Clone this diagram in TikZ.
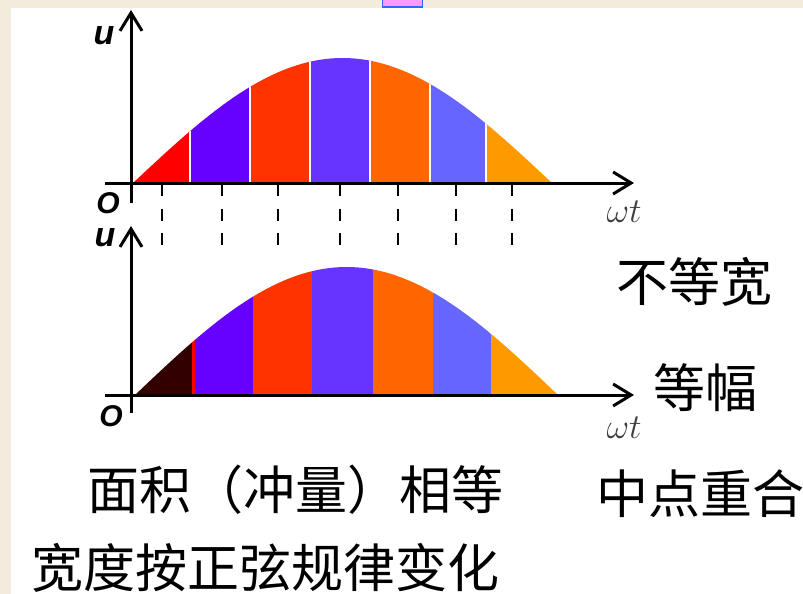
\documentclass[tikz,border=0pt]{standalone}
\usepackage{fix-cm}
\usepackage{fontspec}
\newfontfamily\cjk{Noto Sans CJK SC}
\newfontfamily\axfont{Liberation Sans}
\usepackage{tikz}
\usetikzlibrary{arrows.meta}
\usepackage{xcolor}
\definecolor{paper}{RGB}{243,236,220}
\definecolor{tabpink}{RGB}{255,153,255}
\definecolor{tabblue}{RGB}{51,102,255}
\definecolor{pwmA}{RGB}{255,0,0}
\definecolor{pwmB}{RGB}{102,0,255}
\definecolor{pwmC}{RGB}{255,51,0}
\definecolor{pwmD}{RGB}{102,51,255}
\definecolor{pwmE}{RGB}{255,102,0}
\definecolor{pwmF}{RGB}{102,102,255}
\definecolor{pwmG}{RGB}{255,153,0}
\definecolor{pwmDark}{RGB}{51,0,0}

\begin{document}
\begin{tikzpicture}[x=1pt,y=-1pt,>={Straight Barb[length=18pt,width=22pt]},
  axis/.style={line width=3pt,->},
  guide/.style={line width=2pt,dash pattern=on 12pt off 12.5pt},
  zh/.style={font=\cjk\fontsize{52}{60}\selectfont,inner sep=0pt},
  axlab/.style={font=\axfont\bfseries\itshape\fontsize{34}{40}\selectfont,inner sep=0pt},
  olab/.style={font=\axfont\bfseries\itshape\fontsize{30}{36}\selectfont,inner sep=0pt},
  wt/.style={font=\fontsize{35}{40}\selectfont,text=black!75,inner sep=0pt}]
\useasboundingbox (0,0) rectangle (803,594);
\fill[paper] (0,0) rectangle (803,594);
\fill[white] (11,8) rectangle (803,594);
\filldraw[fill=tabpink,draw=tabblue,line width=1.5pt] (382.5,-3) rectangle (422.5,7);

\begin{scope}
\clip (133,183) -- plot[domain=0:180,samples=90] ({133+\x/180*419},{183-125*sin(\x)}) -- cycle;
\foreach \a/\b/\c in {133/190/pwmA,190/250/pwmB,250/310/pwmC,310/370/pwmD,370/430/pwmE,430/486/pwmF,486/552/pwmG}
  \fill[\c] (\a,184) rectangle (\b,50);
\foreach \a in {190,250,310,370,430,486}
  \draw[white,line width=1.5pt] (\a,184) -- (\a,50);
\end{scope}

\begin{scope}
\clip (135,395) -- plot[domain=0:180,samples=90] ({135+\x/180*423},{395-128*sin(\x)}) -- cycle;
\foreach \a/\b/\c in {135/192/pwmDark,192/195/pwmA,195/253/pwmB,253/312/pwmC,312/373/pwmD,373/433/pwmE,433/491/pwmF,491/558/pwmG}
  \fill[\c] (\a,396) rectangle (\b,260);
\end{scope}

\foreach \x in {162,222,278,340,398,456,512}
  \draw[guide] (\x,184) -- (\x,247);

\coordinate (x1s) at (105,183);
\coordinate (x1e) at (634,183);
\coordinate (y1s) at (131,203);
\coordinate (y1e) at (131,10);
\coordinate (x2s) at (105,395);
\coordinate (x2e) at (634,395);
\coordinate (y2s) at (131,413);
\coordinate (y2e) at (131,226);
\draw[axis] (x1s) -- (x1e);
\draw[axis] (y1s) -- (y1e);
\draw[axis] (x2s) -- (x2e);
\draw[axis] (y2s) -- (y2e);

\node[axlab] (u1) at (104,36) {u};
\node[olab] (o1) at (108,203) {O};
\node[wt] (wt1) at (624,212) {$\omega t$};
\node[axlab] (u2) at (105,238) {u};
\node[olab] (o2) at (111,416) {O};
\node[wt] (wt2) at (624,428) {$\omega t$};

\node[zh] (neqw) at (694,282) {不等宽};
\node[zh] (eqamp) at (705,388) {等幅};
\node[zh] (mid) at (700,494) {中点重合};
\node[zh] (area) at (295,490) {面积（冲量）相等};
\node[zh] (width) at (265,568) {宽度按正弦规律变化};
\end{tikzpicture}
\end{document}
